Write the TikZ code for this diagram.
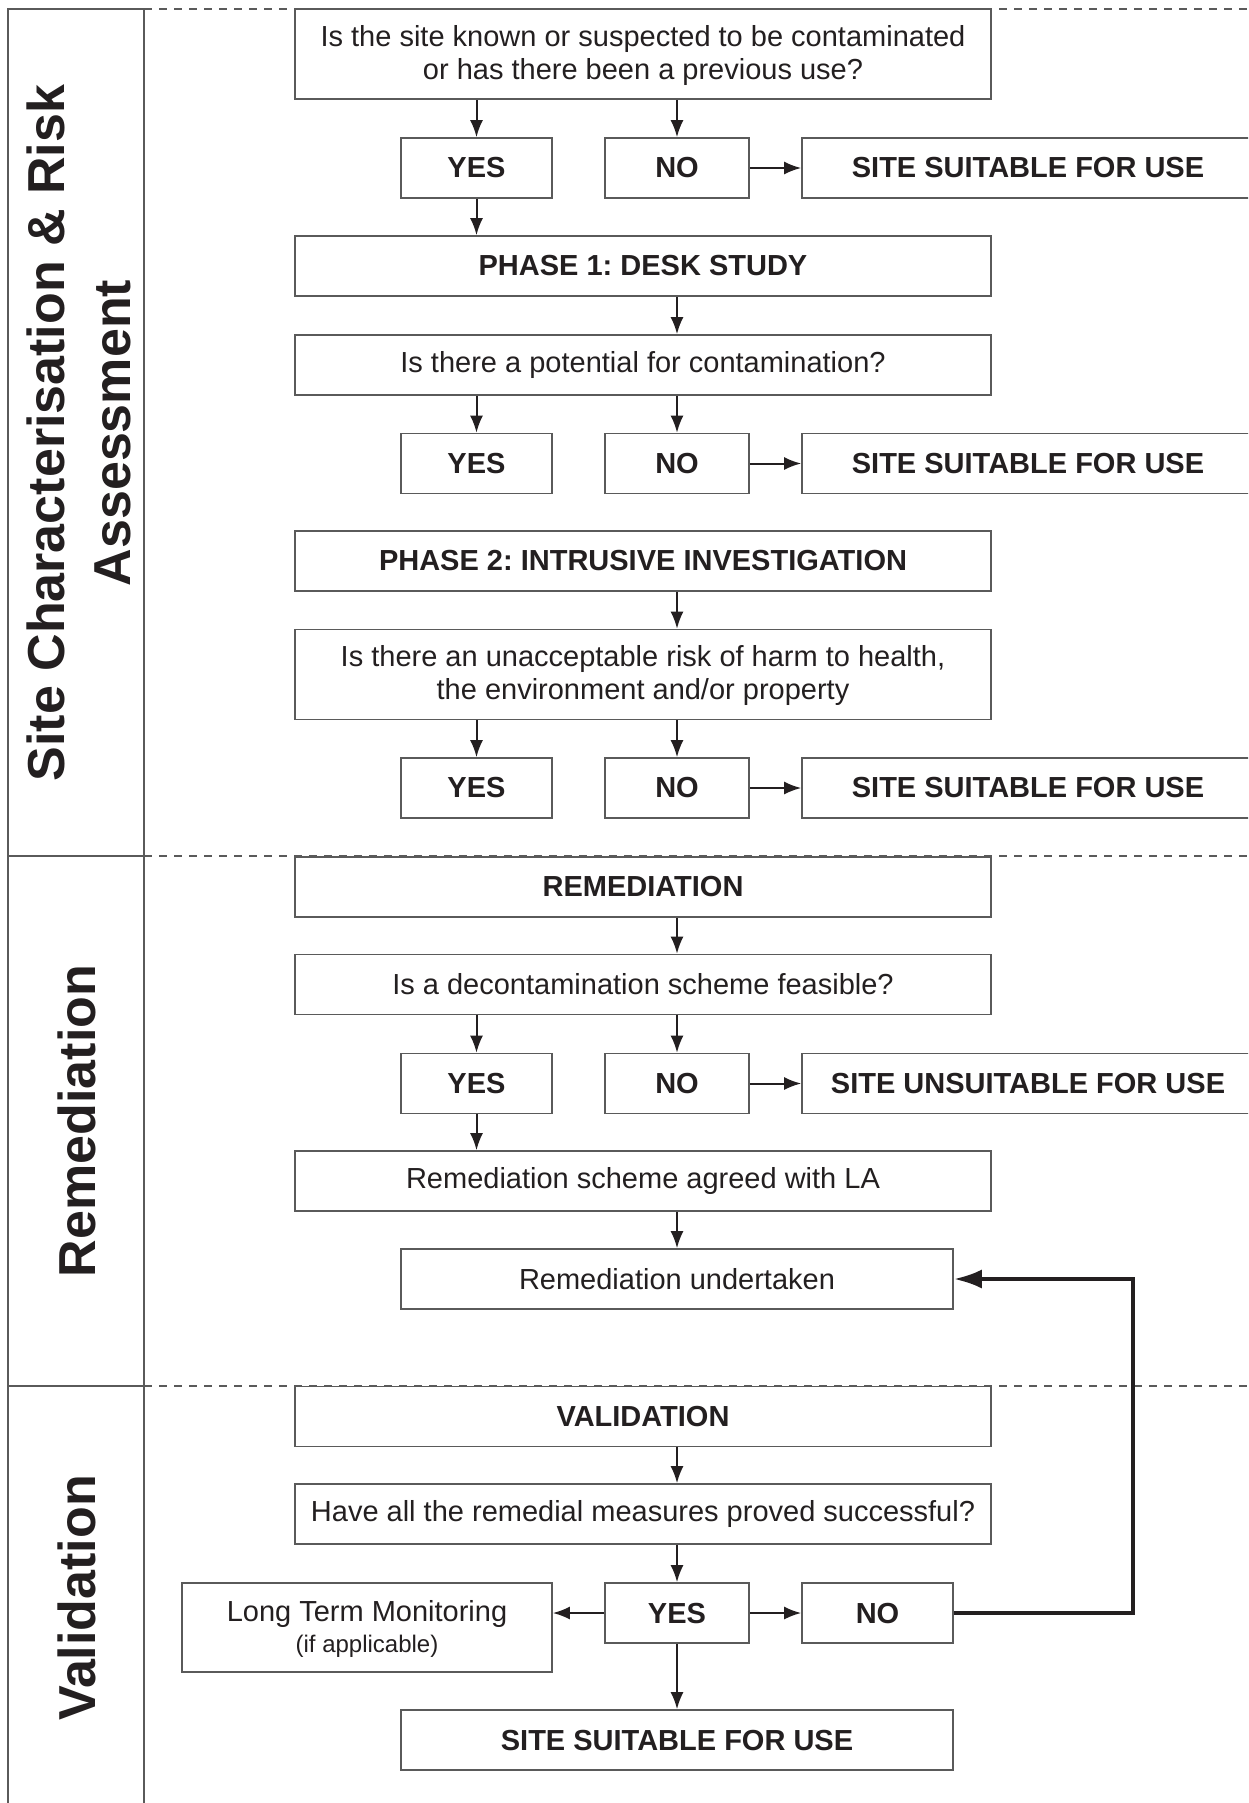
\documentclass[tikz,border=0pt]{standalone}
\usepackage{fontspec}
\setmainfont{Liberation Sans}
\usepackage{xcolor}
\usepackage{tikz}
\usetikzlibrary{arrows.meta,calc}
\frenchspacing
\definecolor{boxgray}{RGB}{90,90,90}
\definecolor{inkdark}{RGB}{35,31,32}
\tikzset{
    flow box/.style={rectangle, draw=boxgray, line width=0.8pt, fill=white, text=inkdark, inner sep=0pt, align=center, font=\fontsize{14.5}{16.5}\selectfont},
    bold box/.style={flow box, font=\fontsize{14.5}{16.5}\selectfont\bfseries},
    main box/.style={flow box, minimum width=348pt, minimum height=30pt},
    tall box/.style={main box, minimum height=45pt},
    phase box/.style={bold box, minimum width=348pt, minimum height=30pt},
    yes box/.style={bold box, minimum width=75.5pt, minimum height=30pt},
    no box/.style={bold box, minimum width=72pt, minimum height=30pt},
    result box/.style={bold box, minimum width=226pt, minimum height=30pt},
    short box/.style={flow box, minimum width=276pt, minimum height=30pt},
    short result/.style={bold box, minimum width=276pt, minimum height=30pt},
    section label/.style={rotate=90, align=center, text=inkdark, font=\fontsize{26}{33}\selectfont\bfseries},
    flow arrow/.style={-{Latex[length=8.5pt, width=6.5pt]}, line width=1pt, draw=inkdark},
    loop arrow/.style={-{Latex[length=14pt, width=9.5pt]}, line width=2pt, draw=inkdark},
    divider/.style={draw=boxgray, line width=0.8pt, dash pattern=on 4pt off 3.5pt},
    column line/.style={draw=boxgray, line width=0.8pt}
}

\begin{document}
\begin{tikzpicture}[x=0.5pt, y=-0.5pt]
    \clip (0,0) rectangle (1248,1803);

    % Section column on the left
    \draw[column line] (8,1803) -- (8,9) -- (144,9) -- (144,1803);
    \draw[column line] (8,856) -- (144,856);
    \draw[column line] (8,1386) -- (144,1386);
    \node[section label] (lab1) at (79,433) {Site Characterisation \& Risk\\Assessment};
    \node[section label] (lab2) at (77,1121) {Remediation};
    \node[section label] (lab3) at (77,1598) {Validation};

    % Dashed section dividers
    \draw[divider] (144,9) -- (1248,9);
    \draw[divider] (144,856) -- (1248,856);
    \draw[divider] (144,1386) -- (1248,1386);

    % Site characterisation and risk assessment
    \node[tall box] (q1) at (643,54) {\strut Is the site known or suspected to be contaminated\\or has there been a previous use?};
    \node[yes box] (y1) at (476.5,168) {YES};
    \node[no box] (n1) at (677,168) {NO};
    \node[result box] (s1) at (1028,168) {SITE SUITABLE FOR USE};
    \node[phase box] (p1) at (643,266) {PHASE 1: DESK STUDY};
    \node[main box] (q2) at (643,365) {Is there a potential for contamination?};
    \node[yes box] (y2) at (476.5,463.5) {YES};
    \node[no box] (n2) at (677,463.5) {NO};
    \node[result box] (s2) at (1028,463.5) {SITE SUITABLE FOR USE};
    \node[phase box] (p2) at (643,561) {PHASE 2: INTRUSIVE INVESTIGATION};
    \node[tall box] (q3) at (643,674.5) {\strut Is there an unacceptable risk of harm to health,\\the environment and/or property};
    \node[yes box] (y3) at (476.5,788) {YES};
    \node[no box] (n3) at (677,788) {NO};
    \node[result box] (s3) at (1028,788) {SITE SUITABLE FOR USE};

    % Remediation
    \node[phase box] (rem) at (643,887) {REMEDIATION};
    \node[main box] (q4) at (643,984.5) {Is a decontamination scheme feasible?};
    \node[yes box] (y4) at (476.5,1083.5) {YES};
    \node[no box] (n4) at (677,1083.5) {NO};
    \node[result box] (s4) at (1028,1083.5) {SITE UNSUITABLE FOR USE};
    \node[main box] (agreed) at (643,1181) {Remediation scheme agreed with LA};
    \node[short box] (und) at (677,1279) {Remediation undertaken};

    % Validation
    \node[phase box] (val) at (643,1416.5) {VALIDATION};
    \node[main box] (q5) at (643,1514) {Have all the remedial measures proved successful?};
    \node[no box] (y5) at (677,1613) {YES};
    \node[yes box] (n5) at (877.5,1613) {NO};
    \node[flow box, minimum width=185pt, minimum height=44.5pt] (ltm) at (367,1627.5) {\strut Long Term Monitoring\\[-1pt]{\fontsize{12}{13}\selectfont (if applicable)}};
    \node[short result] (fin) at (677,1740) {SITE SUITABLE FOR USE};

    % Connectors
    \draw[flow arrow] (q1.south -| y1) -- (y1);
    \draw[flow arrow] (q1.south -| n1) -- (n1);
    \draw[flow arrow] (n1) -- (s1);
    \draw[flow arrow] (y1) -- (y1 |- p1.north);
    \draw[flow arrow] (p1.south -| n1) -- (q2.north -| n1);
    \draw[flow arrow] (q2.south -| y2) -- (y2);
    \draw[flow arrow] (q2.south -| n2) -- (n2);
    \draw[flow arrow] (n2) -- (s2);
    \draw[flow arrow] (p2.south -| n2) -- (q3.north -| n2);
    \draw[flow arrow] (q3.south -| y3) -- (y3);
    \draw[flow arrow] (q3.south -| n3) -- (n3);
    \draw[flow arrow] (n3) -- (s3);
    \draw[flow arrow] (rem.south -| n4) -- (q4.north -| n4);
    \draw[flow arrow] (q4.south -| y4) -- (y4);
    \draw[flow arrow] (q4.south -| n4) -- (n4);
    \draw[flow arrow] (n4) -- (s4);
    \draw[flow arrow] (y4) -- (y4 |- agreed.north);
    \draw[flow arrow] (agreed.south -| und) -- (und);
    \draw[flow arrow] (val.south -| y5) -- (q5.north -| y5);
    \draw[flow arrow] (q5.south -| y5) -- (y5);
    \draw[flow arrow] (y5) -- (n5);
    \draw[flow arrow] (y5.west) -- (y5.west -| ltm.east);
    \draw[flow arrow] (y5) -- (fin);

    % Feedback when validation fails
    \coordinate (loop turn) at (1133,1279);
    \draw[loop arrow] (n5) -| (loop turn) -- (und);
\end{tikzpicture}
\end{document}
